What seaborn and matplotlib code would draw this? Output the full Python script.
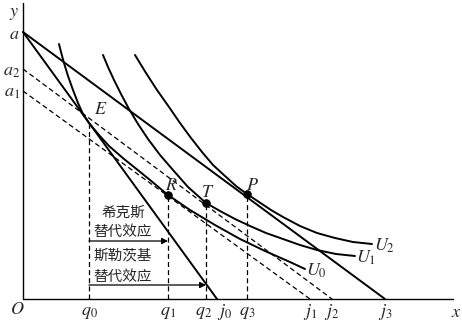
import matplotlib
matplotlib.use("Agg")
import matplotlib.pyplot as plt
import numpy as np
import pandas as pd
import seaborn as sns

sns.set_theme(style="white")
plt.rcParams["font.family"] = ["Noto Sans CJK SC", "DejaVu Sans"]
plt.rcParams["mathtext.fontset"] = "stix"

# Intercepts of the budget lines
y_int_names = ["a", "a_1", "a_2"]
y_int_vals = [267, 208, 230]
x_int_names = ["j_0", "j_1", "j_2", "j_3"]
x_int_vals = [194, 287, 309, 362]

# Budget lines: (y intercept, x intercept, dashed?)
budget_lines = [("a", "j_0", False), ("a", "j_3", False),
                ("a_1", "j_1", True), ("a_2", "j_2", True)]

# Quantities and the bundles E, R, T, P
q_names = ["q_0", "q_1", "q_2", "q_3"]
q_vals = [66, 145, 183, 224]
pt_names = ["E", "R", "T", "P"]
pt_y = [176, 104, 96, 105]

# Indifference curves
u0_x = [36, 38, 41, 45, 50, 55, 60, 66, 76, 86, 101, 116, 127, 145, 167, 192, 217, 242, 267, 282]
u0_y = [255, 247, 236, 223, 209, 196, 185, 176, 164, 153, 140, 128, 119, 104, 89, 74, 60, 48, 37, 30]
u1_x = [80, 85, 91, 98, 106, 115, 125, 137, 150, 165, 183, 197, 212, 227, 243, 260, 277, 294, 313, 332]
u1_y = [244, 232, 219, 205, 190, 175, 160, 144, 129, 112, 96, 88, 80, 73, 66, 60, 54, 49, 45, 43]
u2_x = [112, 123, 134, 146, 157, 168, 179, 190, 202, 213, 224, 236, 248, 260, 277, 294, 312, 330, 349]
u2_y = [244, 226, 209, 192, 176, 161, 147, 134, 123, 113, 105, 97, 89, 82, 73, 66, 61, 57, 55]

yi = dict(zip(y_int_names, y_int_vals))
xi = dict(zip(x_int_names, x_int_vals))

fig = plt.figure(figsize=(4.62, 3.26), dpi=100)
ax = fig.add_axes([0, 0, 1, 1])
ax.set_xlim(-23, 439)
ax.set_ylim(-27, 299)
ax.axis("off")

K = "black"
lw = 1.4
dash = (4, 2.5)

# Axes
ax.plot([0, 0], [0, 296], color=K, lw=1.0)
ax.plot([0, 430], [0, 0], color=K, lw=1.0)

# Budget lines
for yn, xn, dashed in budget_lines:
    d = pd.DataFrame({"x": [0, xi[xn]], "y": [yi[yn], 0]})
    sns.lineplot(data=d, x="x", y="y", ax=ax, color=K,
                 lw=0.9 if dashed else lw,
                 dashes=dash if dashed else "", estimator=None, sort=False)

# Indifference curves
for cx, cy in [(u0_x, u0_y), (u1_x, u1_y), (u2_x, u2_y)]:
    d = pd.DataFrame({"x": cx, "y": cy})
    sns.lineplot(data=d, x="x", y="y", ax=ax, color=K, lw=lw,
                 estimator=None, sort=False)

# Drop lines from the bundles to the quantity axis
for qv, py in zip(q_vals, pt_y):
    ax.plot([qv, qv], [0, py], color=K, lw=0.9, dashes=dash)

# Marked bundles
pts = pd.DataFrame({"x": q_vals[1:], "y": pt_y[1:]})
sns.scatterplot(data=pts, x="x", y="y", ax=ax, color=K, s=32,
                edgecolor=K, zorder=5)

ax.set_xlabel("")
ax.set_ylabel("")

fs = 13
# Axis labels
ax.text(-9, 286, "$y$", fontsize=fs, ha="center", va="center")
ax.text(433, -13, "$x$", fontsize=fs, ha="center", va="center")
ax.text(-6, -10, "$O$", fontsize=fs, ha="center", va="center")

# Intercept labels
y_lab_pos = {"a": (-9, 265), "a_1": (-11, 207), "a_2": (-11, 228)}
for n in y_int_names:
    px, py = y_lab_pos[n]
    ax.text(px, py, f"${n}$", fontsize=fs, ha="center", va="center")
label_shift = {"q_2": -2, "j_0": 8}
for n, v in zip(q_names + x_int_names, q_vals + x_int_vals):
    ax.text(v + label_shift.get(n, 0), -13, f"${n}$", fontsize=fs,
            ha="center", va="center")

# Bundle labels
pt_lab = {"E": (78, 190), "R": (148, 114), "T": (185, 107), "P": (229, 114)}
for n in pt_names:
    px, py = pt_lab[n]
    ax.text(px, py, f"${n}$", fontsize=fs, ha="center", va="center")

# Curve labels
ax.text(362, 53, "$U_2$", fontsize=fs, ha="center", va="center")
ax.text(343, 41, "$U_1$", fontsize=fs, ha="center", va="center")
ax.text(293, 28, "$U_0$", fontsize=fs, ha="center", va="center")

# Substitution effects
cfs = 10.5
ax.text(100, 86, "希克斯", fontsize=cfs, ha="center", va="center")
ax.text(100, 67, "替代效应", fontsize=cfs, ha="center", va="center")
ax.annotate("", xy=(q_vals[1], 58), xytext=(q_vals[0], 58),
            arrowprops=dict(arrowstyle="-|>", color=K, lw=0.9,
                            mutation_scale=9, shrinkA=0, shrinkB=0))
ax.text(100, 44, "斯勒茨基", fontsize=cfs, ha="center", va="center")
ax.text(100, 22, "替代效应", fontsize=cfs, ha="center", va="center")
ax.annotate("", xy=(q_vals[2], 14), xytext=(q_vals[0], 14),
            arrowprops=dict(arrowstyle="-|>", color=K, lw=0.9,
                            mutation_scale=9, shrinkA=0, shrinkB=0))

fig.savefig("out.png", dpi=100, facecolor="white")
